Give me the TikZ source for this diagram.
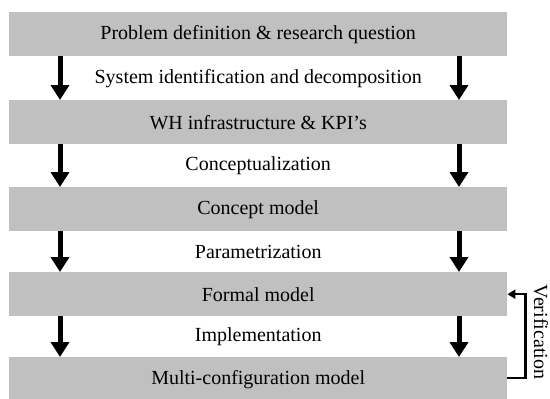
\documentclass[tikz,border=0pt]{standalone}
\usepackage{fontspec}
\setmainfont{Liberation Serif}
\usetikzlibrary{arrows.meta,calc}
\definecolor{boxgray}{RGB}{192,192,192}
\begin{document}
\begin{tikzpicture}[x=1pt,y=-1pt,
  stage/.style={rectangle, fill=boxgray, minimum width=498pt, minimum height=44pt,
    inner sep=0pt, anchor=north west},
  phase/.style={font=\fontsize{20}{24}\selectfont, inner sep=0pt},
  flow/.style={line width=5pt, -{Triangle[length=15pt,width=18pt]}},
  back/.style={line width=2.2pt, -{Triangle[length=8pt,width=9pt]}}]
\useasboundingbox (0,0) rectangle (550,399);
\node[stage] (b1) at (9,12) {};
\node[stage] (b2) at (9,100) {};
\node[stage] (b3) at (9,187) {};
\node[stage] (b4) at (9,272) {};
\node[stage] (b5) at (9,357) {};
\node[phase] at (b1.center) {Problem definition \& research question};
\node[phase] at (b2.center) {WH infrastructure \& KPI’s};
\node[phase] at (b3.center) {Concept model};
\node[phase] at (b4.center) {Formal model};
\node[phase] at (b5.center) {Multi-configuration model};
\coordinate (xl) at (60,0);
\coordinate (xr) at (459,0);
\foreach \a/\b/\t [count=\i] in {b1/b2/{System identification and decomposition},
    b2/b3/Conceptualization, b3/b4/Parametrization, b4/b5/Implementation}{
  \draw[flow] (\a.south -| xl) -- (\b.north -| xl);
  \draw[flow] (\a.south -| xr) -- (\b.north -| xr);
  \node[phase] (l\i) at ($(\a.south)!0.5!(\b.north)$) {\t};
}
\draw[back] (b5.east |- 0,378) -- ++(18,0) |- (b4.east);
\node[phase, rotate=-90] (ver) at (541,332) {Verification};
\end{tikzpicture}
\end{document}
